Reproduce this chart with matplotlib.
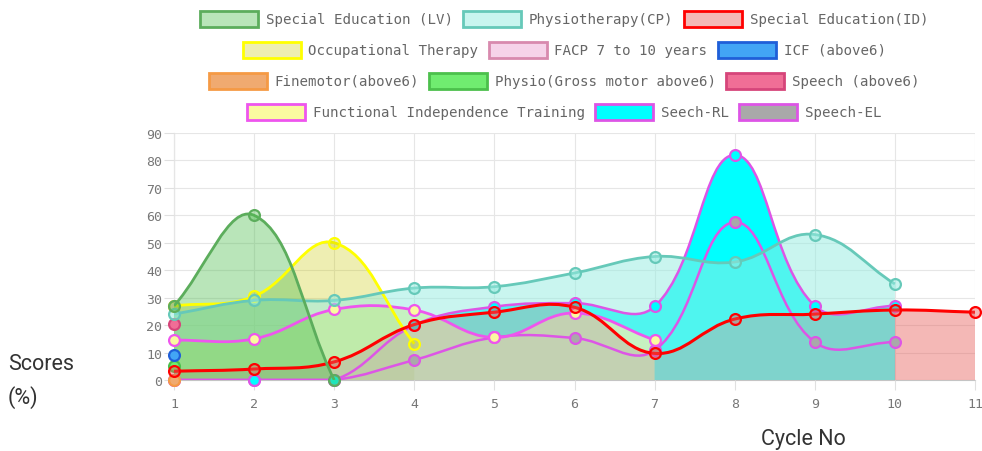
import matplotlib
matplotlib.use("Agg")
import matplotlib.pyplot as plt
import numpy as np
from matplotlib.path import Path
from matplotlib.patches import PathPatch, Rectangle
from matplotlib.transforms import IdentityTransform

plt.rcParams['font.family'] = 'DejaVu Sans Mono'

W, H = 982, 452

# ---- data ----
cycles = list(range(1, 12))
y_ticks = list(range(0, 91, 10))

labels = ["Special Education (LV)", "Physiotherapy(CP)", "Special Education(ID)",
          "Occupational Therapy", "FACP 7 to 10 years", "ICF (above6)",
          "Finemotor(above6)", "Physio(Gross motor above6)", "Speech (above6)",
          "Functional Independence Training", "Seech-RL", "Speech-EL"]

se_lv = [27, 60, 0]
physio_cp = [24, 29, 29, 33.5, 34, 39, 45, 43, 53, 35]
se_id = [3.2, 4, 6.6, 20.2, 24.7, 26.5, 9.7, 22.2, 24, 25.5, 24.7]
occ_therapy = [27, 30.5, 50, 13.2]
facp = [27]
icf = [9]
finemotor = [0]
physio_gross = [5]
speech_above6 = [20.3]
fit = [14.5, 15, 25.7, 25.5, 15.5, 24.4, 14.6]
seech_rl = [0, 0, 0, 20, 26.7, 28, 26.8, 82, 27, 27]
speech_el = [0, 0, 0, 7.3, 15.5, 15.3, 10.8, 57.5, 13.8, 13.8]

series = [se_lv, physio_cp, se_id, occ_therapy, facp, icf, finemotor,
          physio_gross, speech_above6, fit, seech_rl, speech_el]


def rgba(r, g, b, a=1.0):
    return (r / 255, g / 255, b / 255, a)


fills = [rgba(80, 190, 80, 0.4), rgba(152, 236, 225, 0.52), rgba(232, 94, 90, 0.44),
         rgba(200, 200, 0, 0.3), rgba(240, 175, 215, 0.55), rgba(66, 165, 245),
         rgba(240, 170, 112), rgba(112, 236, 112), rgba(240, 110, 150),
         rgba(250, 250, 160), rgba(0, 255, 255), rgba(169, 169, 169)]
borders = ['#5cad5c', '#66c9b9', '#ff0000', '#ffff00', '#d88aae', '#1f5fd8',
           '#f59a45', '#4cc04c', '#d6457a', '#ee55ee', '#dd55e6', '#dd55e6']
widths = [2.0, 2.0, 2.2, 2.0, 2.0, 2.0, 2.0, 2.0, 2.0, 2.0, 1.8, 1.8]

fig = plt.figure(figsize=(W / 100, H / 100), dpi=100)
ax = fig.add_axes([174 / W, 71 / H, 801 / W, 247 / H])
ax.set_xlim(1, 11)
ax.set_ylim(0, 90)


def spline_path(xs, ys, tension=0.4):
    # chart.js style bezier curve, computed in pixel space
    pts = ax.transData.transform(np.column_stack([xs, ys]))
    n = len(pts)
    prev_cp = pts.copy()
    next_cp = pts.copy()
    for i in range(n):
        p, m, q = pts[max(i - 1, 0)], pts[i], pts[min(i + 1, n - 1)]
        d01 = np.hypot(*(m - p))
        d12 = np.hypot(*(q - m))
        tot = d01 + d12
        s01 = d01 / tot if tot else 0
        s12 = d12 / tot if tot else 0
        prev_cp[i] = m - tension * s01 * (q - p)
        next_cp[i] = m + tension * s12 * (q - p)
    bb = ax.bbox
    for cp in (prev_cp, next_cp):
        cp[:, 0] = np.clip(cp[:, 0], bb.x0, bb.x1)
        cp[:, 1] = np.clip(cp[:, 1], bb.y0, bb.y1)
    verts = [pts[0]]
    codes = [Path.MOVETO]
    for i in range(n - 1):
        verts += [next_cp[i], prev_cp[i + 1], pts[i + 1]]
        codes += [Path.CURVE4] * 3
    verts = ax.transData.inverted().transform(np.array(verts))
    return verts, codes


n_sets = len(series)
for i, vals in enumerate(series):
    xs = cycles[:len(vals)]
    z = (n_sets - i) * 0.1
    if len(vals) > 1:
        verts, codes = spline_path(xs, vals)
        fv = list(verts) + [(xs[-1], 0), (xs[0], 0), (xs[0], vals[0])]
        fc = codes + [Path.LINETO, Path.LINETO, Path.CLOSEPOLY]
        ax.add_patch(PathPatch(Path(fv, fc), facecolor=fills[i], edgecolor='none',
                               zorder=1 + z))
        ax.add_patch(PathPatch(Path(verts, codes), facecolor='none',
                               edgecolor=borders[i], lw=widths[i], zorder=3 + z))
    ax.plot(xs, vals, linestyle='none', marker='o', ms=7.8, mfc=fills[i],
            mec=borders[i], mew=1.6, zorder=3.05 + z, clip_on=False)

# ---- axes styling ----
ax.set_xticks(cycles)
ax.set_yticks(y_ticks)
ax.grid(color='#e6e6e6', lw=0.8)
ax.set_axisbelow(True)
for s in ['top', 'right']:
    ax.spines[s].set_visible(False)
for s in ['left', 'bottom']:
    ax.spines[s].set_color('#c4c4c4')
    ax.spines[s].set_linewidth(0.8)
    ax.spines[s].set_zorder(0.5)
ax.tick_params(axis='both', length=7.2, width=0.8, color='#e0e0e0',
               labelcolor='#777777', labelsize=9.5)
ax.tick_params(axis='y', pad=1.5)
ax.tick_params(axis='x', pad=5)

lab_kw = dict(family='Roboto', fontweight='normal', fontsize=15.5, color='#333333')
fig.text(8 / W, 1 - 365 / H, "Scores", ha='left', va='center', **lab_kw)
fig.text(8 / W, 1 - 398 / H, "(%)", ha='left', va='center', **lab_kw)
fig.text(803 / W, 1 - 440 / H, "Cycle No", ha='center', va='center', **lab_kw)

# ---- legend (chart.js style rows) ----
px = IdentityTransform()
renderer = fig.canvas.get_renderer()
rows = [[0, 1, 2], [3, 4, 5], [6, 7, 8], [9, 10, 11]]
row_y = [20, 51, 82, 113]
box_w, box_h, box_gap, item_gap = 58, 16, 8, 10
center_x = 564
for row, yc in zip(rows, row_y):
    texts = []
    for k in row:
        t = fig.text(0, 0, labels[k], fontsize=10.2, color='#666666',
                     va='center', ha='left', transform=px)
        texts.append(t)
    tw = [t.get_window_extent(renderer).width for t in texts]
    total = sum(box_w + box_gap + w for w in tw) + item_gap * (len(row) - 1)
    x = center_x - total / 2
    yb = H - yc
    for k, t, w in zip(row, texts, tw):
        fig.patches.append(Rectangle((x, yb - box_h / 2), box_w, box_h,
                                     facecolor=fills[k], edgecolor=borders[k],
                                     lw=2.0, transform=px, figure=fig))
        t.set_position((x + box_w + box_gap, yb))
        x += box_w + box_gap + w + item_gap

fig.savefig("out.png", dpi=100)
